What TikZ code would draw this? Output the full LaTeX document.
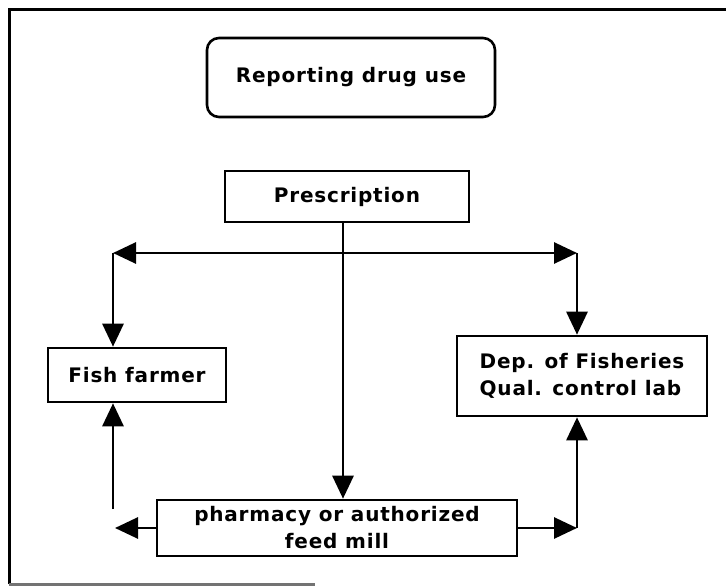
\documentclass[tikz,border=0pt]{standalone}
\usepackage{xcolor}
\usepackage{fontspec}
\usepackage{tikz}
\usetikzlibrary{arrows.meta}
\newfontfamily\chartfont[LetterSpace=4]{DejaVu Sans}
\begin{document}
\begin{tikzpicture}[x=1pt,y=-1pt,
  box/.style={draw,line width=2.6,inner sep=0,font=\chartfont\bfseries\fontsize{20}{27}\selectfont},
  flow/.style={line width=2.8,-{Triangle[length=23pt,width=21pt]}},
  frame/.style={line width=3}]
\useasboundingbox (0,0) rectangle (726,586);
\draw[frame] (9,584)--(9,10)--(726,10);
\draw[frame,black!55] (9,584)--(315,584);
%
\node[box,rounded corners=12,minimum width=288,minimum height=79] (title) at (351,77.5) {Reporting drug use};
\node[box,minimum width=244,minimum height=51] (presc) at (347,196.5) {Prescription};
\node[box,minimum width=178,minimum height=54] (fish) at (137,375) {Fish farmer};
\node[box,minimum width=250,minimum height=80,align=left] (dep) at (582,376) {Dep. of Fisheries\\Qual. control lab};
\node[box,minimum width=360,minimum height=56,align=center] (pharm) at (337,528) {pharmacy or authorized\\feed mill};
%
\coordinate (lt) at (113,253);
\coordinate (rt) at (577,253);
\coordinate (lb) at (113,509);
\coordinate (lh) at (115,528);
\coordinate (rb) at (577,528);
%
\draw[flow] (presc.south -| 343,0)--(pharm.north -| 343,0);
\draw[flow,{Triangle[length=23pt,width=21pt]}-{Triangle[length=23pt,width=21pt]}] (lt)--(rt);
\draw[flow] (lt)--(lt |- fish.north);
\draw[flow] (rt)--(rt |- dep.north);
%
\draw[flow] (pharm.west)--(lh);
\draw[flow] (lb)--(lb |- fish.south);
\draw[flow] (pharm.east)--(rb);
\draw[flow] (rb)--(rb |- dep.south);
\end{tikzpicture}
\end{document}
